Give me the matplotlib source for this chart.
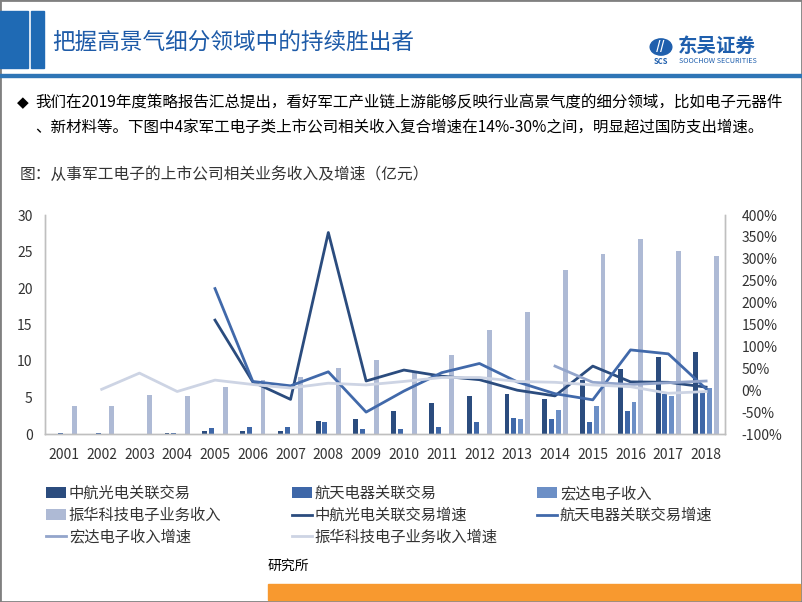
import numpy as np
import matplotlib.pyplot as plt
from matplotlib.patches import Rectangle, Circle
from matplotlib.ticker import FuncFormatter

plt.rcParams['font.family'] = ['Noto Sans CJK SC', 'DejaVu Sans']

nan = np.nan
years = [str(y) for y in range(2001, 2019)]

# revenue, 亿元
zh_rev = [nan, nan, nan, 0.15, 0.35, 0.45, 0.35, 1.8, 2.1, 3.2, 4.3, 5.25, 5.5, 4.8, 7.45, 8.95, 10.6, 11.2]
ht_rev = [0.1, 0.2, nan, 0.2, 0.77, 0.9, 1.0, 1.6, 0.72, 0.72, 1.0, 1.7, 2.2, 2.05, 1.6, 3.15, 5.45, 5.9]
hd_rev = [nan] * 12 + [2.1, 3.3, 3.9, 4.4, 5.2, 6.35]
zhk_rev = [3.8, 3.9, 5.3, 5.25, 6.4, 7.45, 7.85, 9.1, 10.2, 8.6, 10.85, 14.2, 16.75, 22.5, 24.7, 26.75, 25.1, 24.4]

# growth rates
zh_g = [nan] * 4 + [1.60, 0.19, -0.21, 3.60, 0.21, 0.46, 0.32, 0.24, 0.0, -0.13, 0.55, 0.19, 0.18, 0.07]
ht_g = [nan] * 4 + [2.32, 0.20, 0.10, 0.42, -0.50, -0.02, 0.40, 0.61, 0.19, -0.08, -0.22, 0.92, 0.83, 0.03]
hd_g = [nan] * 13 + [0.55, 0.18, 0.13, 0.17, 0.21]
zhk_g = [nan, 0.02, 0.39, -0.03, 0.23, 0.13, 0.05, 0.16, 0.12, 0.20, 0.29, 0.29, 0.20, 0.18, 0.12, 0.08, -0.07, -0.03]

bar_names = ['中航光电关联交易', '航天电器关联交易', '宏达电子收入', '振华科技电子业务收入']
line_names = ['中航光电关联交易增速', '航天电器关联交易增速', '宏达电子收入增速', '振华科技电子业务收入增速']
bar_colors = ['#2B4C7E', '#3E67A8', '#6C8FC6', '#AEBAD5']
line_colors = ['#2B4C7E', '#4169AA', '#93A5CB', '#CDD4E4']

W, H = 802, 602
fig = plt.figure(figsize=(W / 100, H / 100), dpi=100)

def fx(px):
    return px / W

def fy(py):
    return 1 - py / H

# slide decoration
fig.patches.append(Rectangle((0, 0), 1, 1, transform=fig.transFigure, fill=False,
                             edgecolor='#808080', lw=2))
fig.patches.append(Rectangle((0, fy(68)), fx(28), fy(11) - fy(68), transform=fig.transFigure,
                             color='#1F6AB4'))
fig.patches.append(Rectangle((fx(31), fy(68)), fx(13), fy(11) - fy(68), transform=fig.transFigure,
                             color='#1F6AB4'))
fig.patches.append(Rectangle((0, fy(77)), 1, fy(74) - fy(77), transform=fig.transFigure,
                             color='#2E75B6'))
fig.patches.append(Rectangle((fx(268), fy(600)), fx(532), fy(584) - fy(600), transform=fig.transFigure,
                             color='#F8992F'))
fig.text(fx(52), fy(42), '把握高景气细分领域中的持续胜出者', fontsize=16.3, color='#1E5BA8',
         va='center', ha='left')

# logo
fig.patches.append(Circle((fx(661), fy(47)), 0.0135, transform=fig.transFigure, color='#1F5FAD'))
fig.text(fx(661), fy(47), '//', fontsize=9, color='white', weight='bold', ha='center', va='center')
fig.text(fx(661), fy(61), 'SCS', fontsize=5.5, color='#1F5FAD', weight='bold', ha='center', va='center')
fig.text(fx(678), fy(46), '东吴证券', fontsize=14, color='#1F5FAD', weight='bold', ha='left', va='center')
fig.text(fx(679), fy(61), 'SOOCHOW SECURITIES', fontsize=5.2, color='#1F5FAD', ha='left', va='center')

# body text
fig.text(fx(17), fy(103), '◆', fontsize=11, color='black', ha='left', va='center',
         family=['DejaVu Sans'])
fig.text(fx(35), fy(103), '我们在2019年度策略报告汇总提出，看好军工产业链上游能够反映行业高景气度的细分领域，比如电子元器件',
         fontsize=11.2, color='black', ha='left', va='center')
fig.text(fx(35), fy(127), '、新材料等。下图中4家军工电子类上市公司相关收入复合增速在14%-30%之间，明显超过国防支出增速。',
         fontsize=11.2, color='black', ha='left', va='center')
fig.text(fx(20), fy(174), '图：从事军工电子的上市公司相关业务收入及增速（亿元）',
         fontsize=11.3, color='#333333', ha='left', va='center')
fig.text(fx(268), fy(566), '研究所', fontsize=10, color='black', ha='left', va='center')

# chart
ax = fig.add_axes([fx(45), fy(434), fx(680), fy(215) - fy(434)])
x = np.arange(len(years))
offs = [-0.27, -0.09, 0.09, 0.27]
bars = []
for vals, off, c, name in zip([zh_rev, ht_rev, hd_rev, zhk_rev], offs, bar_colors, bar_names):
    bars.append(ax.bar(x + off, vals, width=0.13, color=c, label=name))

ax.set_xlim(-0.5, len(years) - 0.5)
ax.set_ylim(0, 30)
ax.set_yticks(range(0, 31, 5))
ax.set_xticks(x)
ax.set_xticklabels(years)

ax2 = ax.twinx()
lines = []
for vals, c, name in zip([zh_g, ht_g, hd_g, zhk_g], line_colors, line_names):
    lines.append(ax2.plot(x, vals, color=c, lw=2, label=name)[0])
ax2.set_ylim(-1, 4)
ax2.set_yticks(np.arange(-1, 4.01, 0.5))
ax2.yaxis.set_major_formatter(FuncFormatter(lambda v, p: '%d%%' % round(v * 100)))

for a in (ax, ax2):
    a.spines['top'].set_visible(False)
    for s in ('left', 'right', 'bottom'):
        a.spines[s].set_color('#BFBFBF')
        a.spines[s].set_linewidth(1)
    a.tick_params(length=0, labelsize=10, labelcolor='#333333')
ax.tick_params(axis='y', pad=9)
ax.tick_params(axis='x', pad=10)
ax2.tick_params(axis='y', pad=12)

# legend: three columns
cols = [
    ([bars[0], bars[3], lines[2]], [bar_names[0], bar_names[3], line_names[2]], 46),
    ([bars[1], lines[0], lines[3]], [bar_names[1], line_names[0], line_names[3]], 292),
    ([bars[2], lines[1]], [bar_names[2], line_names[1]], 537),
]
for handles, labels, px in cols:
    leg = fig.legend(handles, labels, loc='upper left', bbox_to_anchor=(fx(px), fy(485)),
                     frameon=False, fontsize=11, handlelength=1.3, handletextpad=0.2,
                     labelspacing=0.32, borderpad=0, borderaxespad=0)
    for t in leg.get_texts():
        t.set_color('#333333')

fig.savefig('out.png', dpi=100)
